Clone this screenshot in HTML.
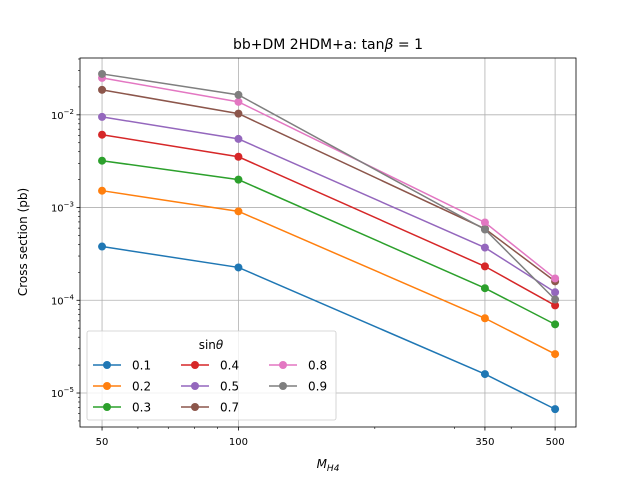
<!DOCTYPE html>
<html><head><meta charset="utf-8"><style>
body{margin:0;background:#fff;}
svg text{font-family:"DejaVu Sans","Liberation Sans",sans-serif;fill:#000;}
</style></head><body>
<svg id="chart" width="640" height="480" xmlns="http://www.w3.org/2000/svg">
<rect width="640" height="480" fill="#fff"/>
<g id="grid"></g><g id="series"></g><g id="axes"></g><g id="legend"></g>
</svg>
<script>
const xValues=[50,100,350,500];
const seriesLabels=["0.1","0.2","0.3","0.4","0.5","0.7","0.8","0.9"];
const seriesColors=["#1f77b4","#ff7f0e","#2ca02c","#d62728","#9467bd","#8c564b","#e377c2","#7f7f7f"];
const s01=[3.8e-4,2.26e-4,1.6e-5,6.7e-6];
const s02=[1.52e-3,9.1e-4,6.4e-5,2.63e-5];
const s03=[3.2e-3,2.0e-3,1.35e-4,5.5e-5];
const s04=[6.1e-3,3.53e-3,2.32e-4,8.8e-5];
const s05=[9.5e-3,5.5e-3,3.7e-4,1.22e-4];
const s07=[1.86e-2,1.03e-2,5.9e-4,1.6e-4];
const s08=[2.5e-2,1.38e-2,6.9e-4,1.72e-4];
const s09=[2.76e-2,1.64e-2,5.8e-4,1.02e-4];
const seriesValues=[s01,s02,s03,s04,s05,s07,s08,s09];
const xTicks=[50,100,350,500];
const yTickExps=[-5,-4,-3,-2];

const L=80,R=576,T=58,B=427;
const xMin=44.7,xMax=556,yMin=4.3e-6,yMax=4.1e-2;
const X=v=>L+(Math.log10(v)-Math.log10(xMin))/(Math.log10(xMax)-Math.log10(xMin))*(R-L);
const Y=v=>B-(Math.log10(v)-Math.log10(yMin))/(Math.log10(yMax)-Math.log10(yMin))*(B-T);
const NS="http://www.w3.org/2000/svg";
function mk(tag,attrs,parent){const e=document.createElementNS(NS,tag);for(const k in attrs)e.setAttribute(k,attrs[k]);parent.appendChild(e);return e;}
const grid=document.getElementById('grid'),series=document.getElementById('series'),axes=document.getElementById('axes'),legend=document.getElementById('legend');

xTicks.forEach(t=>{const x=X(t);
 const g=mk('line',{x1:x,x2:x,y1:T,y2:B,stroke:'#b0b0b0','stroke-width':0.8},grid);
 
 mk('line',{x1:x,x2:x,y1:B,y2:B+3.5,stroke:'#000','stroke-width':0.8},axes);
 const tx=mk('text',{x:x,y:B+18,'text-anchor':'middle','font-size':10},axes);tx.textContent=t;
 
});
[60,70,80,90,200,300,400].forEach(t=>{const x=X(t);mk('line',{x1:x,x2:x,y1:B,y2:B+2,stroke:'#000','stroke-width':0.6},axes);});
yTickExps.forEach(e=>{const y=Y(Math.pow(10,e));
 const g=mk('line',{x1:L,x2:R,y1:y,y2:y,stroke:'#b0b0b0','stroke-width':0.8},grid);
 
 mk('line',{x1:L-3.5,x2:L,y1:y,y2:y,stroke:'#000','stroke-width':0.8},axes);
 const tx=mk('text',{x:L-6,y:y+4,'text-anchor':'end','font-size':10},axes);
 
 tx.textContent='10';const sp=mk('tspan',{dy:-5,'font-size':7},tx);sp.textContent='\u2212'+Math.abs(e);
});
for(let e=-6;e<=-2;e++)for(let m=2;m<10;m++){const v=m*Math.pow(10,e);if(v<yMin||v>yMax)continue;const y=Y(v);mk('line',{x1:L-2,x2:L,y1:y,y2:y,stroke:'#000','stroke-width':0.6},axes);}

seriesValues.forEach((vals,i)=>{
 const g=mk('g',{},series);
 mk('polyline',{points:vals.map((v,j)=>X(xValues[j])+','+Y(v)).join(' '),fill:'none',stroke:seriesColors[i],'stroke-width':1.5},g);
 vals.forEach((v,j)=>{const c=mk('circle',{cx:X(xValues[j]),cy:Y(v),r:4,fill:seriesColors[i]},g);
  });
});

const sp=mk('rect',{x:L,y:T,width:R-L,height:B-T,fill:'none',stroke:'#000','stroke-width':0.8},axes);


const lb=mk('rect',{x:87,y:331,width:249,height:89,rx:2,fill:'#fff','fill-opacity':0.8,stroke:'#ccc','stroke-width':0.8},legend);

const lt=mk('text',{x:211,y:349,'text-anchor':'middle','font-size':12},legend);lt.innerHTML='sin<tspan font-style="italic">θ</tspan>';

seriesLabels.forEach((lab,i)=>{const col=Math.floor(i/3),row=i%3;
 const x0=93+col*88,y=365+row*21;
 const g=mk('g',{},legend);
 mk('line',{x1:x0,x2:x0+28,y1:y,y2:y,stroke:seriesColors[i],'stroke-width':1.5},g);
 mk('circle',{cx:x0+14,cy:y,r:4,fill:seriesColors[i]},g);
 const t=mk('text',{x:x0+39,y:y+4.5,'font-size':12},g);t.textContent=lab;
});

const ti=mk('text',{x:328,y:49,'text-anchor':'middle','font-size':14},axes);ti.innerHTML='bb+DM 2HDM+a: tan<tspan font-style="italic">β</tspan> = 1';

const xl=mk('text',{x:328,y:468,'text-anchor':'middle','font-size':12},axes);xl.innerHTML='<tspan font-style="italic">M</tspan><tspan font-style="italic" font-size="9" dy="3">H4</tspan>';

const yl=mk('text',{x:0,y:0,'text-anchor':'middle','font-size':12,transform:'translate(27,242) rotate(-90)'},axes);yl.textContent='Cross section (pb)';

</script>
</body></html>
